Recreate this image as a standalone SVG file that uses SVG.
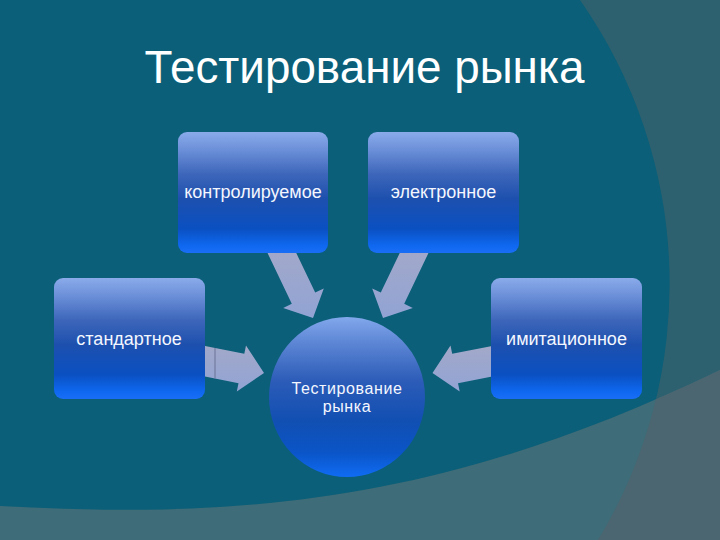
<svg xmlns="http://www.w3.org/2000/svg" width="720" height="540" viewBox="0 0 720 540">
  <defs>
    <linearGradient id="boxGrad" x1="0" y1="0" x2="0" y2="1">
      <stop offset="0" stop-color="#8aaaea"/>
      <stop offset="0.15" stop-color="#6b8fd8"/>
      <stop offset="0.35" stop-color="#3d66ba"/>
      <stop offset="0.55" stop-color="#1d50ae"/>
      <stop offset="0.8" stop-color="#0a50c2"/>
      <stop offset="0.94" stop-color="#0f68f0"/>
      <stop offset="1" stop-color="#1a6ef6"/>
    </linearGradient>
    <linearGradient id="circGrad" x1="0" y1="0" x2="0" y2="1">
      <stop offset="0" stop-color="#82a8ec"/>
      <stop offset="0.15" stop-color="#5f88d6"/>
      <stop offset="0.4" stop-color="#2c5cb8"/>
      <stop offset="0.65" stop-color="#114fb2"/>
      <stop offset="0.85" stop-color="#0a55c8"/>
      <stop offset="1" stop-color="#106cf4"/>
    </linearGradient>
    <linearGradient id="arrowGrad" x1="0" y1="0" x2="0" y2="1">
      <stop offset="0" stop-color="#a3a9c9"/>
      <stop offset="1" stop-color="#91a3d4"/>
    </linearGradient>
    <clipPath id="bandClip">
      <path d="M0,506 C250,520 450,500 720,370 L720,540 L0,540 Z"/>
    </clipPath>
    <style>
      .box { fill: url(#boxGrad); }
      .lbl { font-family: "Liberation Sans", Arial, sans-serif; font-size: 18px; fill: #f4f7ff; text-anchor: middle; }
      .arrow { fill: url(#arrowGrad); }
    </style>
  </defs>

  <!-- background -->
  <rect x="0" y="0" width="720" height="540" fill="#0b5f78"/>
  <path d="M580,0 A494,494 0 0 1 598,540 L720,540 L720,0 Z" fill="#2e6170"/>
  <path d="M0,506 C250,520 450,500 720,370 L720,540 L0,540 Z" fill="#3e6c78"/>
  <path d="M580,0 A494,494 0 0 1 598,540 L720,540 L720,0 Z" fill="#4b6670" clip-path="url(#bandClip)"/>

  <!-- title -->
  <text x="364.5" y="83" font-family="Liberation Sans, Arial, sans-serif" font-size="45.8" fill="#ffffff" text-anchor="middle">Тестирование рынка</text>

  <!-- connectors -->
  <g id="connectors">
    <polygon class="arrow" points="264.2,246 292.9,246 315.2,292.6 323.8,288.5 313,318 283.2,307.9 291.8,303.8"/>
    <polygon class="arrow" points="431.8,246 403.1,246 380.8,292.6 372.2,288.5 383,318 412.8,307.9 404.2,303.8"/>
    <polygon class="arrow" points="200,344.9 244.3,353.8 246,345.6 264,373 236.8,391.4 238.5,383.2 200,375.5"/>
    <line x1="215" y1="348" x2="215" y2="378.5" stroke="#6a7296" stroke-width="1"/>
    <polygon class="arrow" points="496,345.3 452.2,353.8 450.5,345.6 432.5,373 459.7,391.4 458,383.2 496,375.8"/>
  </g>

  <!-- nodes -->
  <g id="node-controlled">
    <rect class="box" x="178" y="132" width="150" height="121" rx="9"/>
    <text class="lbl" x="253" y="198">контролируемое</text>
  </g>
  <g id="node-electronic">
    <rect class="box" x="368" y="132" width="151" height="121" rx="9"/>
    <text class="lbl" x="443.5" y="198">электронное</text>
  </g>
  <g id="node-standard">
    <rect class="box" x="54" y="278" width="151" height="121" rx="9"/>
    <text class="lbl" x="129" y="345">стандартное</text>
  </g>
  <g id="node-imitation">
    <rect class="box" x="491" y="278" width="151" height="121" rx="9"/>
    <text class="lbl" x="566.5" y="345">имитационное</text>
  </g>
  <g id="node-center">
    <ellipse cx="347" cy="397" rx="78" ry="80" fill="url(#circGrad)"/>
    <text x="347" y="394" font-family="Liberation Sans, Arial, sans-serif" font-size="16" letter-spacing="0.6" fill="#f4f7ff" text-anchor="middle">Тестирование</text>
    <text x="347" y="412" font-family="Liberation Sans, Arial, sans-serif" font-size="16" letter-spacing="0.6" fill="#f4f7ff" text-anchor="middle">рынка</text>
  </g>
</svg>
